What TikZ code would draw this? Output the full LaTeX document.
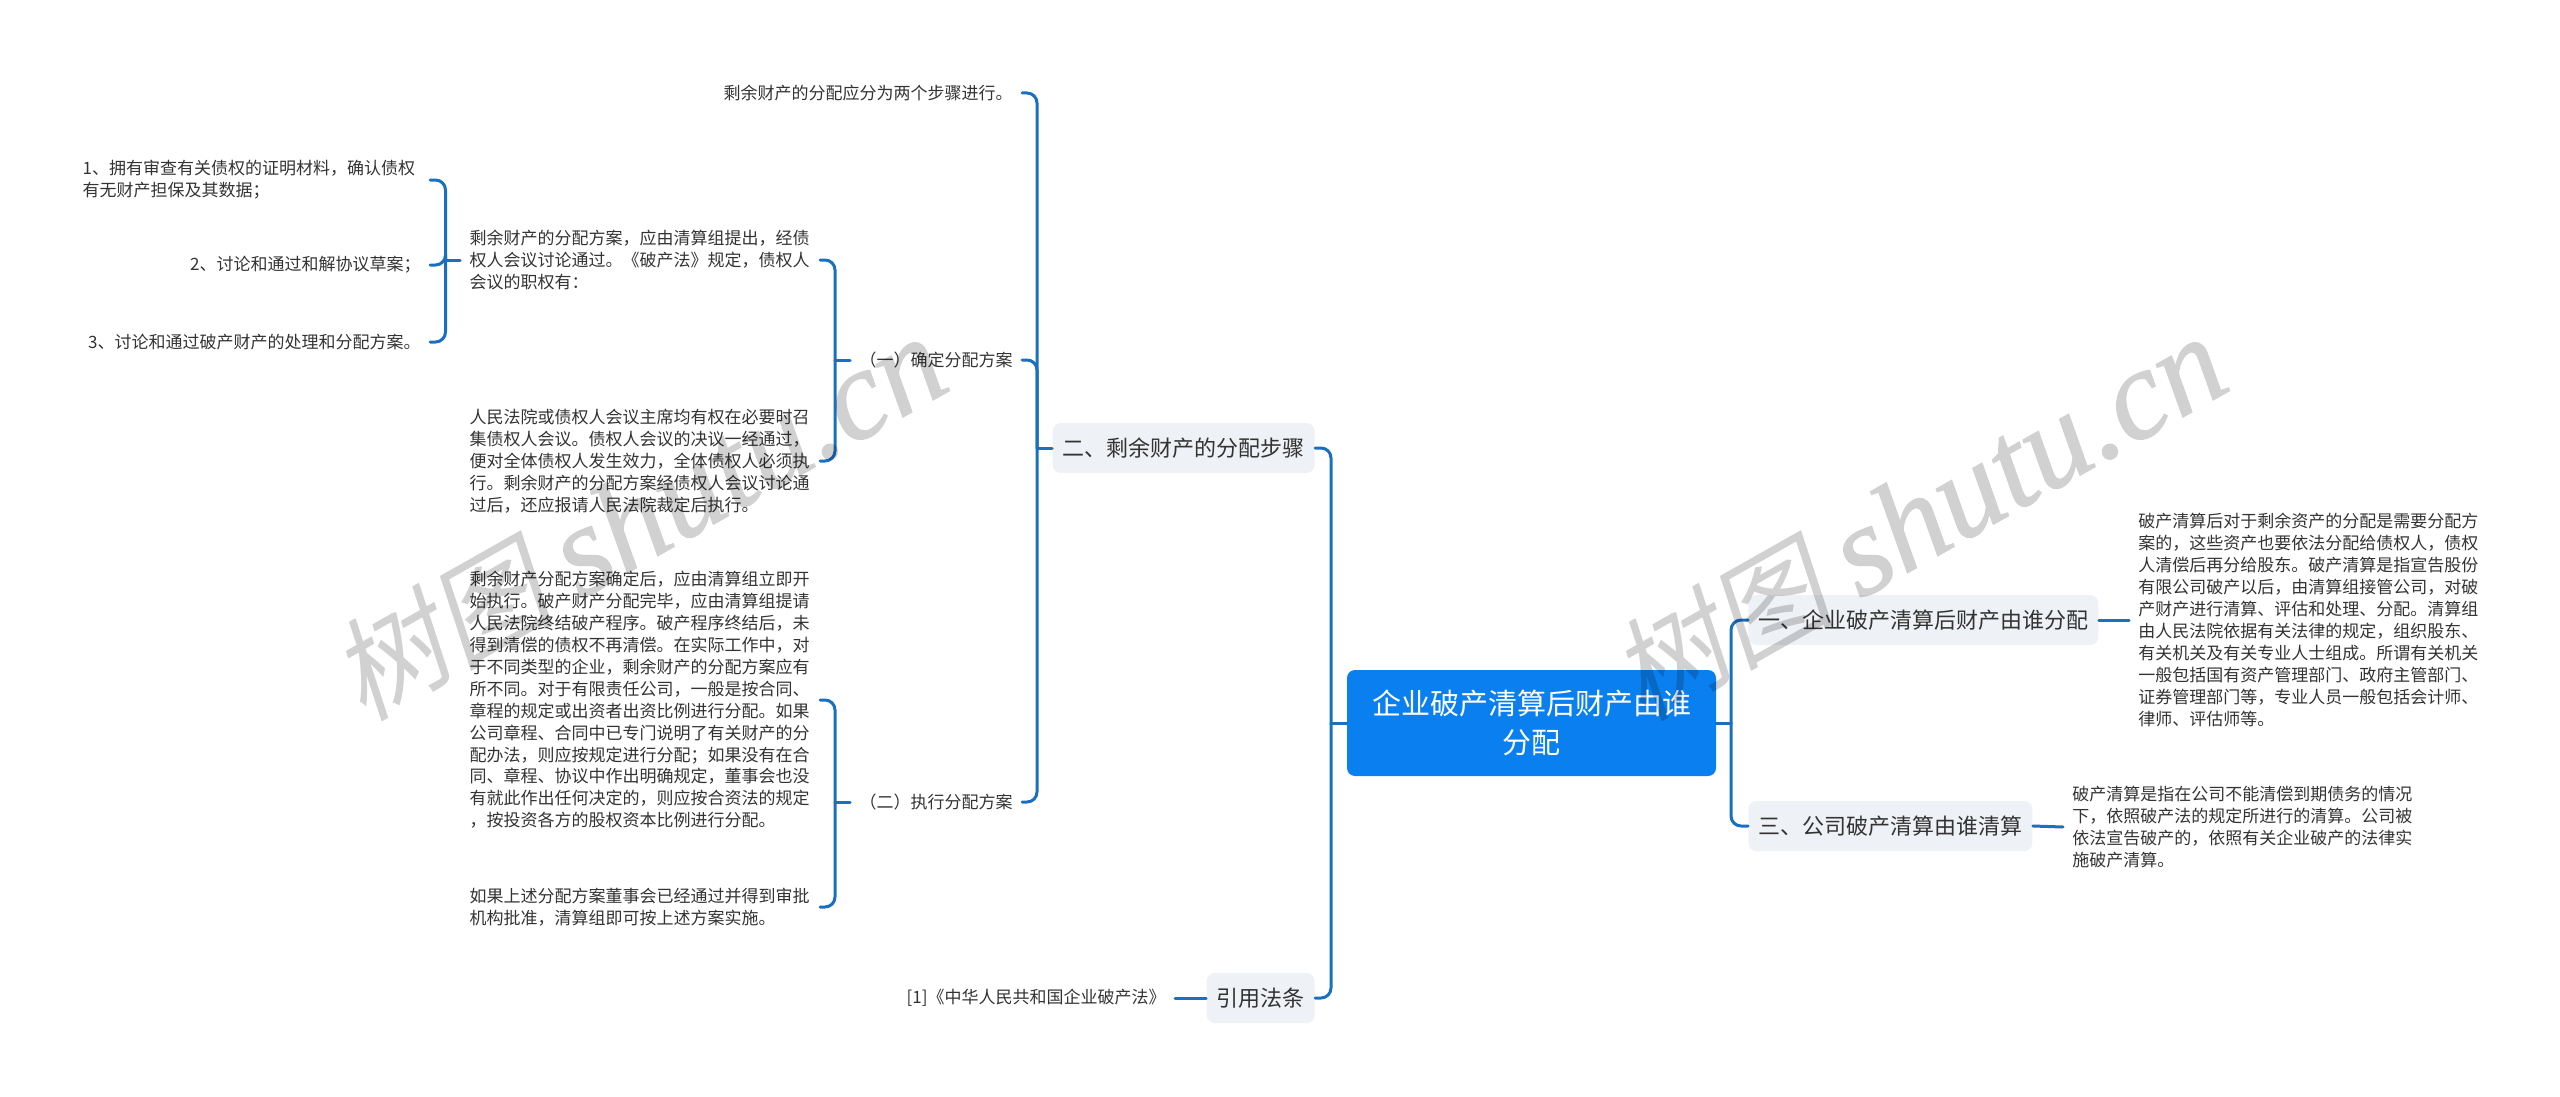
\documentclass[tikz,border=0pt]{standalone}
\usepackage{fontspec}
\setmainfont{Noto Sans CJK SC}
\newfontfamily\wmcjk[FakeSlant=0.2]{Noto Sans CJK SC}
\newfontfamily\wmlatin[ItalicFeatures={FakeBold=1}]{Liberation Serif}
\definecolor{linkblue}{HTML}{1A6FC1}
\definecolor{rootblue}{HTML}{0A80F0}
\definecolor{branchgray}{HTML}{EEF1F5}
\definecolor{inkgray}{HTML}{333333}
\begin{document}
\begin{tikzpicture}[line cap=round,line join=round,x=0.5pt,y=-0.5pt,
	link/.style={draw=linkblue,line width=1.5pt,rounded corners=5pt},
	rootbox/.style={fill=rootblue,text=white,rounded corners=4pt,minimum width=184.5pt,minimum height=53pt,inner sep=0pt,align=center,font=\fontsize{14.5pt}{19.5pt}\selectfont},
	branchbox/.style={fill=branchgray,text=inkgray,rounded corners=4pt,minimum height=25pt,inner xsep=5pt,inner ysep=0pt,font=\fontsize{11pt}{14pt}\selectfont},
	leaftext/.style={text=inkgray,inner xsep=4.5pt,inner ysep=0pt,font=\fontsize{8.5pt}{10.95pt}\selectfont},
	bodytext/.style={leaftext,text width=170.5pt,align=left},
	wmark/.style={black,rotate=29.5,inner sep=0pt}]
	\useasboundingbox (0,0) rectangle (2560,1097);
	\node[rootbox] (root) at (1531.5,723) {企业破产清算后财产由谁\\分配};
	\node[branchbox,anchor=west] (brOne) at (1748,620) {一、企业破产清算后财产由谁分配};
	\node[branchbox,anchor=west] (brThree) at (1748,826) {三、公司破产清算由谁清算};
	\node[branchbox,anchor=east] (brTwo) at (1315,448) {二、剩余财产的分配步骤};
	\node[branchbox,anchor=east] (brCite) at (1315,998) {引用法条};
	\node[leaftext,anchor=east] (txtCite) at (1175,998) {[1]《中华人民共和国企业破产法》};
	\node[leaftext,anchor=east] (txtTop) at (1022,93) {剩余财产的分配应分为两个步骤进行。};
	\node[leaftext,anchor=east] (lblOne) at (1022,360) {（一）确定分配方案};
	\node[leaftext,anchor=east] (lblTwo) at (1022,802) {（二）执行分配方案};
	\node[bodytext,anchor=east] (txtA) at (820,260) {剩余财产的分配方案，应由清算组提出，经债\\权人会议讨论通过。《破产法》规定，债权人\\会议的职权有：};
	\node[bodytext,anchor=east] (txtB) at (820,461) {人民法院或债权人会议主席均有权在必要时召\\集债权人会议。债权人会议的决议一经通过，\\便对全体债权人发生效力，全体债权人必须执\\行。剩余财产的分配方案经债权人会议讨论通\\过后，还应报请人民法院裁定后执行。};
	\node[bodytext,anchor=east] (txtC) at (820,700) {剩余财产分配方案确定后，应由清算组立即开\\始执行。破产财产分配完毕，应由清算组提请\\人民法院终结破产程序。破产程序终结后，未\\得到清偿的债权不再清偿。在实际工作中，对\\于不同类型的企业，剩余财产的分配方案应有\\所不同。对于有限责任公司，一般是按合同、\\章程的规定或出资者出资比例进行分配。如果\\公司章程、合同中已专门说明了有关财产的分\\配办法，则应按规定进行分配；如果没有在合\\同、章程、协议中作出明确规定，董事会也没\\有就此作出任何决定的，则应按合资法的规定\\，按投资各方的股权资本比例进行分配。};
	\node[bodytext,anchor=east] (txtD) at (820,907) {如果上述分配方案董事会已经通过并得到审批\\机构批准，清算组即可按上述方案实施。};
	\node[bodytext,anchor=east,text width=169pt] (itemA) at (430,180) {1、拥有审查有关债权的证明材料，确认债权\\有无财产担保及其数据；};
	\node[leaftext,anchor=east] (itemB) at (430,265) {2、讨论和通过和解协议草案；};
	\node[leaftext,anchor=east] (itemC) at (430,342) {3、讨论和通过破产财产的处理和分配方案。};
	\node[bodytext,anchor=west] (txtR) at (2129,620) {破产清算后对于剩余资产的分配是需要分配方\\案的，这些资产也要依法分配给债权人，债权\\人清偿后再分给股东。破产清算是指宣告股份\\有限公司破产以后，由清算组接管公司，对破\\产财产进行清算、评估和处理、分配。清算组\\由人民法院依据有关法律的规定，组织股东、\\有关机关及有关专业人士组成。所谓有关机关\\一般包括国有资产管理部门、政府主管部门、\\证券管理部门等，专业人员一般包括会计师、\\律师、评估师等。};
	\node[bodytext,anchor=west] (txtS) at (2063,827) {破产清算是指在公司不能清偿到期债务的情况\\下，依照破产法的规定所进行的清算。公司被\\依法宣告破产的，依照有关企业破产的法律实\\施破产清算。};
	\coordinate (spRight) at (1731,723);
	\coordinate (spLeft) at (1331,723);
	\coordinate (spTwo) at (1037,448);
	\coordinate (spOne) at (835,360);
	\coordinate (spExec) at (835,802);
	\coordinate (spItems) at (445.5,260);
	\draw [link] (root.east)--(spRight);
	\draw [link] (spRight) |- (brOne.west);
	\draw [link] (spRight) |- (brThree.west);
	\draw [link] (brOne.east)--(txtR.west);
	\draw [link] (brThree.east)--(txtS.west);
	\draw [link] (root.west)--(spLeft);
	\draw [link] (spLeft) |- (brTwo.east);
	\draw [link] (spLeft) |- (brCite.east);
	\draw [link] (brCite.west)--(txtCite.east);
	\draw [link] (brTwo.west)--(spTwo);
	\draw [link] (spTwo) |- (txtTop.east);
	\draw [link] (spTwo) |- (lblOne.east);
	\draw [link] (spTwo) |- (lblTwo.east);
	\draw [link] (lblOne.west)--(spOne);
	\draw [link] (spOne) |- (txtA.east);
	\draw [link] (spOne) |- (txtB.east);
	\draw [link] (lblTwo.west)--(spExec);
	\draw [link] (spExec) |- (txtC.east);
	\draw [link] (spExec) |- (txtD.east);
	\draw [link] (txtA.west)--(spItems);
	\draw [link] (spItems) |- (itemA.east);
	\draw [link] (spItems) |- (itemB.east);
	\draw [link] (spItems) |- (itemC.east);
	\begin{scope}[transparency group,opacity=0.18]
		\node[wmark] (markL) at (638,518) {\fontsize{56pt}{56pt}\wmcjk 树图 \fontsize{64pt}{64pt}\wmlatin\itshape shutu.cn};
		\node[wmark] (markR) at (1918,518) {\fontsize{56pt}{56pt}\wmcjk 树图 \fontsize{64pt}{64pt}\wmlatin\itshape shutu.cn};
	\end{scope}
\end{tikzpicture}
\end{document}
